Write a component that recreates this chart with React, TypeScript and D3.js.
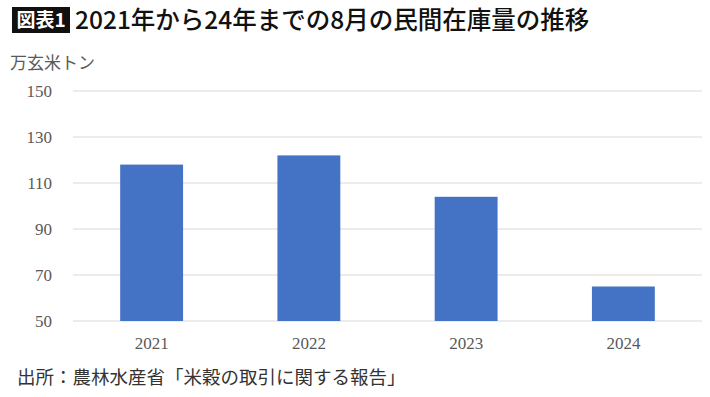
import React, { useRef, useEffect } from "react";
import * as d3 from "d3";

const years = ["2021", "2022", "2023", "2024"];
const stock = [118, 122, 104, 65];
const yTicks = [50, 70, 90, 110, 130, 150];

const titleTag = "図表1";
const titleText = "2021年から24年までの8月の民間在庫量の推移";
const unitText = "万玄米トン";
const sourceText = "出所：農林水産省「米穀の取引に関する報告」";

export default function App() {
  const ref = useRef<SVGSVGElement>(null);

  const width = 710;
  const height = 397;
  const margin = { left: 73, right: 8, top: 91, bottom: 76 };

  useEffect(() => {
    const svg = d3.select(ref.current);
    svg.selectAll("*").remove();

    const x = d3
      .scaleBand()
      .domain(years)
      .range([margin.left, width - margin.right])
      .paddingInner(0.6)
      .paddingOuter(0.3);

    const y = d3
      .scaleLinear()
      .domain([50, 150])
      .range([height - margin.bottom, margin.top]);

    const jp = "'Noto Sans CJK JP', sans-serif";
    const serif = "'Liberation Serif', 'Times New Roman', serif";

    // title
    svg
      .append("rect")
      .attr("x", 12)
      .attr("y", 7)
      .attr("width", 58)
      .attr("height", 26)
      .attr("fill", "#111");
    svg
      .append("text")
      .attr("x", 41)
      .attr("y", 20)
      .attr("dy", "0.35em")
      .attr("text-anchor", "middle")
      .attr("fill", "#fff")
      .style("font-family", jp)
      .style("font-weight", 700)
      .style("font-size", "19px")
      .text(titleTag);
    svg
      .append("text")
      .attr("x", 75)
      .attr("y", 20)
      .attr("dy", "0.35em")
      .attr("fill", "#111")
      .style("font-family", jp)
      .style("font-weight", 500)
      .style("font-size", "24.5px")
      .text(titleText);

    svg
      .append("text")
      .attr("x", 10)
      .attr("y", 63)
      .attr("dy", "0.35em")
      .attr("fill", "#595959")
      .style("font-family", jp)
      .style("font-size", "17px")
      .text(unitText);

    // grid
    svg
      .append("g")
      .selectAll("line")
      .data(yTicks)
      .join("line")
      .attr("x1", margin.left)
      .attr("x2", width - margin.right)
      .attr("y1", (d) => y(d))
      .attr("y2", (d) => y(d))
      .attr("stroke", "#d9d9d9")
      .attr("stroke-width", 1);

    svg
      .append("g")
      .selectAll("text")
      .data(yTicks)
      .join("text")
      .attr("x", 52)
      .attr("y", (d) => y(d))
      .attr("dy", "0.35em")
      .attr("text-anchor", "end")
      .attr("fill", "#595959")
      .style("font-family", serif)
      .style("font-size", "17px")
      .text((d) => d);

    // bars
    svg
      .append("g")
      .selectAll("rect")
      .data(stock)
      .join("rect")
      .attr("x", (d, i) => x(years[i])!)
      .attr("width", x.bandwidth())
      .attr("y", (d) => y(d))
      .attr("height", (d) => y(50) - y(d))
      .attr("fill", "#4472c4");

    svg
      .append("g")
      .selectAll("text")
      .data(years)
      .join("text")
      .attr("x", (d) => x(d)! + x.bandwidth() / 2)
      .attr("y", 343)
      .attr("dy", "0.35em")
      .attr("text-anchor", "middle")
      .attr("fill", "#595959")
      .style("font-family", serif)
      .style("font-size", "17px")
      .text((d) => d);

    svg
      .append("text")
      .attr("x", 17)
      .attr("y", 378)
      .attr("dy", "0.35em")
      .attr("fill", "#333")
      .style("font-family", jp)
      .style("font-size", "18.5px")
      .text(sourceText);
  }, []);

  return (
    <svg
      ref={ref}
      width={width}
      height={height}
      style={{ position: "absolute", left: 0, top: 0, background: "#fff" }}
    />
  );
}
